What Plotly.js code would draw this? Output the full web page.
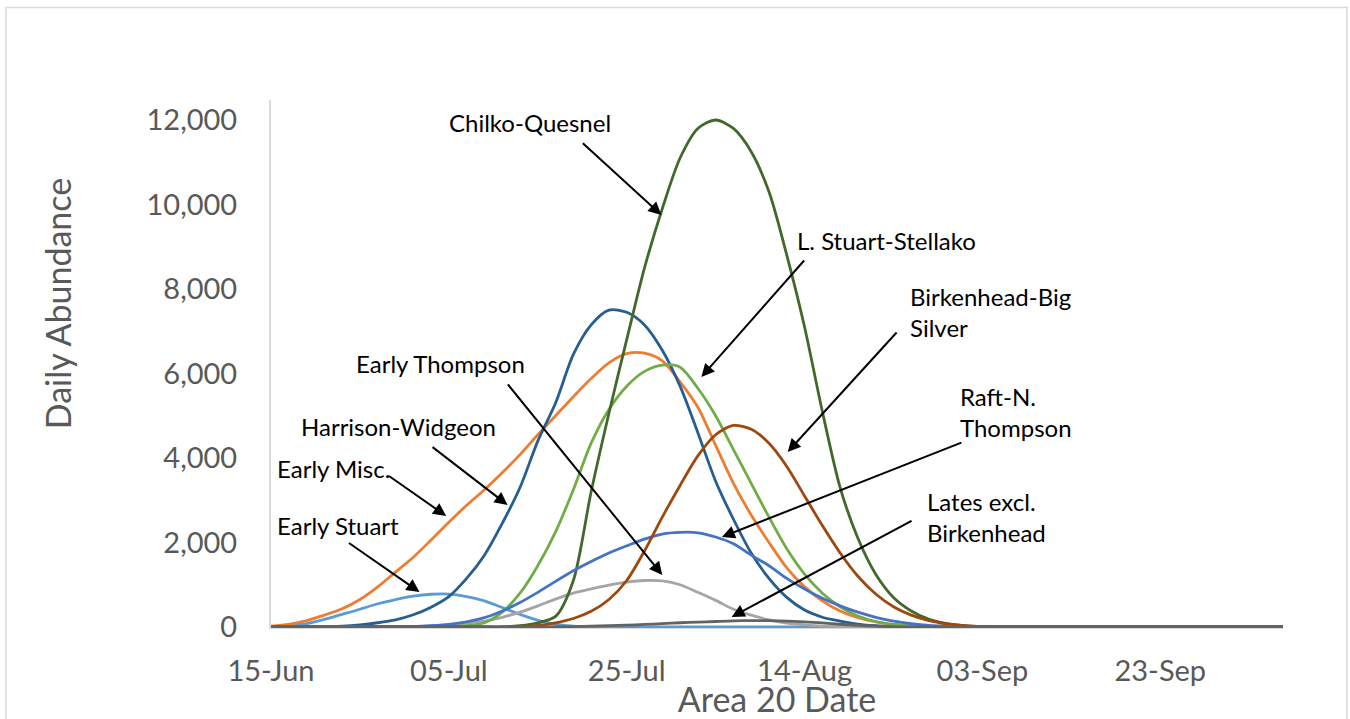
<!DOCTYPE html>
<html>
<head>
<meta charset="utf-8">
<script src="https://cdn.plot.ly/plotly-3.0.1.min.js"></script>
<style>html,body{margin:0;padding:0;background:#fff;}#chart{width:1350px;height:719px;}</style>
</head>
<body>
<div id="chart"></div>
<script>
// Dates (every 2 days from 15-Jun to 07-Sep, then 07-Oct)
const dates = ['2019-06-15','2019-06-17','2019-06-19','2019-06-21','2019-06-23','2019-06-25','2019-06-27','2019-06-29',
  '2019-07-01','2019-07-03','2019-07-05','2019-07-07','2019-07-09','2019-07-11','2019-07-13','2019-07-15','2019-07-17',
  '2019-07-19','2019-07-21','2019-07-23','2019-07-25','2019-07-27','2019-07-29','2019-07-31','2019-08-02','2019-08-04',
  '2019-08-06','2019-08-08','2019-08-10','2019-08-12','2019-08-14','2019-08-16','2019-08-18','2019-08-20','2019-08-22',
  '2019-08-24','2019-08-26','2019-08-28','2019-08-30','2019-09-01','2019-09-03','2019-09-05','2019-09-07','2019-10-07'];

const earlyStuart = [10,30,80,180,300,420,550,650,730,775,780,720,620,460,300,160,70,20,5,0,0,0,0,0,0,0,0,0,0,0,0,0,0,0,0,0,0,0,0,0,0,0,0,0];
const earlyMisc = [20,60,150,280,430,650,950,1300,1650,2060,2480,2880,3250,3650,4080,4550,5000,5450,5880,6250,6470,6480,6300,5800,5200,4300,3400,2650,2000,1400,950,620,380,220,120,60,25,10,0,0,0,0,0,0];
const earlyThompson = [0,0,0,0,0,0,0,0,10,25,50,90,140,230,350,500,660,800,900,990,1060,1100,1090,1000,820,630,420,280,170,90,50,20,5,0,0,0,0,0,0,0,0,0,0,0];
const harrisonWidgeon = [0,0,5,10,20,50,100,170,290,470,720,1150,1700,2450,3300,4400,5300,6450,7150,7500,7450,7150,6550,5700,4600,3450,2550,1750,1150,700,400,230,140,70,30,10,0,0,0,0,0,0,0,0];
const lStuartStellako = [0,0,0,0,0,0,0,0,0,0,0,30,100,350,800,1450,2250,3250,4350,5150,5700,6050,6200,6150,5650,5000,4200,3400,2600,1850,1250,800,480,260,130,60,25,5,0,0,0,0,0,0];
const chilkoQuesnel = [0,0,0,0,0,0,0,0,0,0,0,0,0,0,30,100,250,1100,3200,5060,6800,8500,9900,11100,11800,12000,11800,11250,10300,8800,7100,5100,3300,2100,1250,700,380,180,80,30,10,0,0,0];
const raftNThompson = [0,0,0,0,0,0,0,0,10,30,60,120,220,380,580,820,1080,1330,1550,1750,1920,2080,2200,2240,2230,2130,1970,1700,1450,1150,900,680,500,350,230,140,80,40,20,5,0,0,0,0];
const birkenheadBigSilver = [0,0,0,0,0,0,0,0,0,0,0,0,0,0,15,40,100,200,370,650,1100,1800,2600,3350,4050,4550,4770,4680,4350,3800,3100,2400,1750,1200,780,480,280,150,75,30,10,0,0,0];
const latesExclBirkenhead = [0,0,0,0,0,0,0,0,0,0,0,0,0,0,0,0,5,10,20,30,45,60,80,100,115,130,145,150,150,140,120,95,65,40,20,10,0,0,0,0,0,0,0,0];

const seriesNames = ['Early Stuart','Early Misc','Early Thompson','Harrison-Widgeon','L. Stuart-Stellako','Chilko-Quesnel','Raft-N. Thompson','Birkenhead-Big Silver','Lates excl. Birkenhead'];
const seriesValues = [earlyStuart, earlyMisc, earlyThompson, harrisonWidgeon, lStuartStellako, chilkoQuesnel, raftNThompson, birkenheadBigSilver, latesExclBirkenhead];
const seriesColors = ['#5B9BD5','#ED7D31','#A5A5A5','#255E91','#70AD47','#43682B','#4472C4','#9E480E','#636363'];

const yTicks = [0,2000,4000,6000,8000,10000,12000];

// Label text and positions in data units: [day offset from 15-Jun, value]
const labelTexts = ['Chilko-Quesnel','L. Stuart-Stellako','Birkenhead-Big<br>Silver','Raft-N.<br>Thompson','Lates excl.<br>Birkenhead','Early Thompson','Harrison-Widgeon','Early Misc.','Early Stuart'];
const labelPos = [[29.1,11929],[69.2,9136],[71.6,7456],[77.2,5077],[73.5,2592],[19.1,6225],[14.3,4734],[0.5,3740],[0.5,2391]];
const labelAnchor = ['center','center','left','left','left','center','center','left','left'];
// Arrows: tail [day, value] -> tip [day, value]
const arrowTail = [[34.9,11480],[60.1,8710],[70.5,7006],[77.8,4379],[72.2,2533],[26.5,5775],[18.0,4284],[13.1,3598],[8.6,2012]];
const arrowTip = [[43.9,9752],[48.4,5917],[58.1,4142],[50.7,2130],[51.8,237],[44.0,1231],[26.6,2888],[19.7,2627],[16.7,828]];

const base = Date.UTC(2019,5,15);
function D(day){ return new Date(base + day*86400000).toISOString().replace('T',' ').slice(0,19); }

const FONT = 'Lato, Carlito, Calibri, "Open Sans", sans-serif';

const traces = seriesNames.map((n,i)=>({
  type:'scatter', mode:'lines', name:n, x:dates, y:seriesValues[i],
  line:{color:seriesColors[i], width:2.8, shape:'spline', smoothing:0.8},
  hoverinfo:'x+y+name'
}));

const annotations = [];
labelTexts.forEach((t,i)=>{
  annotations.push({xref:'x', yref:'y', x:D(labelPos[i][0]), y:labelPos[i][1], text:t, showarrow:false,
    xanchor:labelAnchor[i], yanchor:'middle', align:'left', font:{family:FONT, size:24, color:'#000'}});
});
arrowTip.forEach((p,i)=>{
  annotations.push({xref:'x', yref:'y', x:D(p[0]), y:p[1], axref:'x', ayref:'y', ax:D(arrowTail[i][0]), ay:arrowTail[i][1],
    text:'', showarrow:true, arrowhead:2, arrowsize:1.3, arrowwidth:2, arrowcolor:'#000', standoff:0, startstandoff:0});
});
// Y axis title (offset upward as in the reference)
annotations.push({xref:'paper', yref:'paper', x:-0.2115, y:0.615, text:'Daily Abundance', textangle:-90, showarrow:false,
  xanchor:'center', yanchor:'middle', font:{family:FONT, size:34, color:'#595959'}});

const layout = {
  width:1350, height:719,
  margin:{l:271, r:67, t:100, b:91, pad:0},
  paper_bgcolor:'#fff', plot_bgcolor:'#fff',
  showlegend:false,
  font:{family:FONT, color:'#595959'},
  xaxis:{type:'date', range:[D(0), D(113.8)], tick0:'2019-06-15', dtick:20*86400000, tickformat:'%d-%b',
    showgrid:false, zeroline:false, showline:true, linecolor:'#D9D9D9', linewidth:1, ticks:'',
    tickfont:{family:FONT, size:29, color:'#595959'}, ticklabelstandoff:17,
    title:{text:'Area 20 Date', font:{family:FONT, size:34, color:'#595959'}, standoff:0}},
  yaxis:{range:[-24,12473], tickvals:yTicks, tickformat:',d', showgrid:false, zeroline:false,
    showline:true, linecolor:'#D9D9D9', linewidth:2, ticks:'',
    tickfont:{family:FONT, size:29, color:'#595959'}, ticklabelstandoff:26},
  annotations:annotations,
  shapes:[{type:'rect', xref:'paper', yref:'paper', x0:-0.2619, x1:1.0632, y0:-0.2, y1:1.1752,
    line:{color:'#D9D9D9', width:1.5}, fillcolor:'rgba(0,0,0,0)', layer:'below'}]
};

Plotly.newPlot('chart', traces, layout, {displayModeBar:false, staticPlot:true});
</script>
</body>
</html>
